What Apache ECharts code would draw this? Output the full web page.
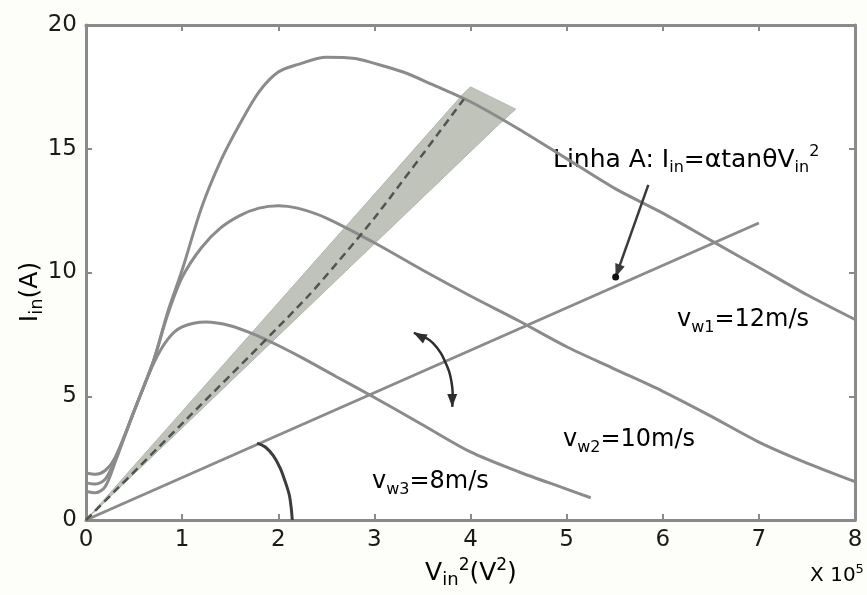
<!DOCTYPE html>
<html><head><meta charset="utf-8">
<script src="https://cdn.jsdelivr.net/npm/echarts@6/dist/echarts.min.js"></script>
<style>html,body{margin:0;padding:0;background:#fdfdfa}#c{width:867px;height:595px}</style>
</head><body><div id="c"></div>
<script>
// ---- data (x in units of 1e5 V^2, y in A) ----
const xTickLabels = ['0','1','2','3','4','5','6','7','8'];
const yTickLabels = ['0','5','10','15','20'];

const vw1X = [0,0.1,0.2,0.3,0.5,0.7,0.85,1.0,1.2,1.4,1.6,1.8,2.0,2.2,2.5,2.8,3.0,3.3,3.6,4.0,4.5,5.0,5.5,6.0,6.5,7.0,7.5,8.0];
const vw1Y = [1.9,1.85,2.0,2.5,4.4,6.4,8.4,10.1,12.6,14.5,16.0,17.3,18.1,18.4,18.7,18.65,18.45,18.1,17.6,16.9,15.8,14.6,13.4,12.4,11.3,10.2,9.1,8.1];

const vw2X = [0,0.1,0.2,0.3,0.5,0.7,0.85,1.0,1.2,1.4,1.6,1.8,2.0,2.2,2.5,3.0,3.5,4.0,4.5,5.0,5.5,6.0,6.5,7.0,7.5,8.0];
const vw2Y = [1.5,1.45,1.65,2.4,4.4,6.4,8.3,9.8,11.0,11.8,12.3,12.6,12.7,12.6,12.2,11.2,10.1,9.05,8.05,7.0,6.1,5.2,4.2,3.15,2.3,1.55];

const vw3X = [0,0.1,0.2,0.3,0.5,0.7,0.85,1.0,1.25,1.5,1.75,2.0,2.25,2.6,3.0,3.5,4.0,4.5,5.0,5.25];
const vw3Y = [1.15,1.1,1.35,2.3,4.4,6.3,7.3,7.8,8.0,7.85,7.5,7.05,6.55,5.8,4.95,3.85,2.75,1.95,1.25,0.9];

const lineAX = [0,7];
const lineAY = [0,12];

const dashX = [0,1.04,2.3,3.0,3.93];
const dashY = [0,4.05,9.0,12.2,17.0];

const bandX = [0,3.92,4.0,4.47,4.3];
const bandY = [0,17.2,17.5,16.6,16.0];

const arcArrowX = [3.41,3.61,3.76,3.81,3.81];
const arcArrowY = [7.56,7.15,6.18,5.37,4.57];

const pointerX = [5.85,5.51];
const pointerY = [13.54,9.82];

const angleX = [1.78,1.865,1.95,2.02,2.07,2.115,2.135,2.146];
const angleY = [3.11,2.95,2.59,2.10,1.58,1.01,0.48,0];

// ---- build ----
const zip = (xs, ys) => xs.map((x, i) => [x, ys[i]]);
const curveColor = '#8b8b8b';
const FONT = 'DejaVu Sans';
const TXT = '#1a1a1a';

function arrowHead(p, q, len, wid, color) {
  const dx = q[0]-p[0], dy = q[1]-p[1];
  const d = Math.hypot(dx, dy) || 1;
  const ux = dx/d, uy = dy/d;
  const bx = q[0]-ux*len, by = q[1]-uy*len;
  return {type:'polygon', shape:{points:[[q[0],q[1]],[bx-uy*wid/2,by+ux*wid/2],[bx+uy*wid/2,by-ux*wid/2]]}, style:{fill:color}};
}

const annotations = [
  {xs: arcArrowX, ys: arcArrowY, color:'#2e2e2e', width:2.5, start:true, end:true, dot:false, smooth:0.4},
  {xs: pointerX, ys: pointerY, color:'#3a3a3a', width:2.5, start:false, end:true, dot:true, smooth:0},
  {xs: angleX, ys: angleY, color:'#3c3c3c', width:3, start:false, end:false, dot:false, smooth:0.3}
];

const chart = echarts.init(document.getElementById('c'), null, {renderer:'canvas'});

const labelStyle = {fontFamily: FONT, fontSize: 23, color:TXT};
const base = (fs) => ({fontFamily:FONT, fontSize:fs, lineHeight:32, color:TXT, verticalAlign:'middle'});
const sub = (fs) => ({fontFamily:FONT, fontSize:fs, lineHeight:fs, color:TXT, verticalAlign:'bottom'});
const sup = (fs) => ({fontFamily:FONT, fontSize:fs, lineHeight:fs, color:TXT, verticalAlign:'top'});

const axisCommon = {
  axisLine:{show:true, onZero:false, lineStyle:{color:'#8a8a8a', width:3}},
  axisTick:{show:true, inside:true, length:6, lineStyle:{color:'#8a8a8a', width:2}},
  splitLine:{show:false}
};

const option = {
  backgroundColor: '#fdfdfa',
  animation: false,
  grid: {left:86, right:12, top:25, bottom:75, show:true, backgroundColor:'#ffffff', borderWidth:0},
  xAxis: [
    {type:'value', min:0, max:8, interval:1, position:'bottom', ...axisCommon,
     axisLabel:{...labelStyle, margin:9, formatter:(v)=>xTickLabels[Math.round(v)]}},
    {type:'value', min:0, max:8, interval:1, position:'top', ...axisCommon, axisLabel:{show:false}}
  ],
  yAxis: [
    {type:'value', min:0, max:20, interval:5, position:'left', ...axisCommon,
     axisLabel:{...labelStyle, margin:9, formatter:(v)=>yTickLabels[Math.round(v/5)]}},
    {type:'value', min:0, max:20, interval:5, position:'right', ...axisCommon, axisLabel:{show:false}}
  ],
  series: [
    {type:'custom', name:'band', z:1, silent:true,
     data:[[0,0]],
     renderItem:(params, api) => ({
       type:'polygon',
       shape:{points: bandX.map((x,i)=>api.coord([x, bandY[i]]))},
       style:{fill:'#bfc3ba', stroke:'#b3b7ae', lineWidth:1}
     })},
    {type:'line', name:'vw1', z:3, data: zip(vw1X, vw1Y), showSymbol:false, smooth:0.3,
     lineStyle:{color:curveColor, width:3}},
    {type:'line', name:'vw2', z:3, data: zip(vw2X, vw2Y), showSymbol:false, smooth:0.3,
     lineStyle:{color:curveColor, width:3}},
    {type:'line', name:'vw3', z:3, data: zip(vw3X, vw3Y), showSymbol:false, smooth:0.3,
     lineStyle:{color:curveColor, width:3}},
    {type:'line', name:'lineA', z:3, data: zip(lineAX, lineAY), showSymbol:false,
     lineStyle:{color:curveColor, width:3}},
    {type:'line', name:'dash', z:4, data: zip(dashX, dashY), showSymbol:false, smooth:0.2,
     lineStyle:{color:'#4f5550', width:2.5, type:[8,5]}},
    {type:'custom', name:'annotations', z:5, silent:true,
     data: annotations.map((a,i)=>[i,0]),
     renderItem:(params, api) => {
       const a = annotations[params.dataIndex];
       const pts = a.xs.map((x,i)=>api.coord([x, a.ys[i]]));
       const children = [{type:'polyline', shape:{points:pts, smooth:a.smooth}, style:{stroke:a.color, lineWidth:a.width, fill:null}}];
       if (a.end) children.push(arrowHead(pts[pts.length-2], pts[pts.length-1], 13, 10, a.color));
       if (a.start) children.push(arrowHead(pts[1], pts[0], 13, 10, a.color));
       if (a.dot) children.push({type:'circle', shape:{cx:pts[pts.length-1][0], cy:pts[pts.length-1][1], r:3.5}, style:{fill:'#111'}});
       return {type:'group', children};
     }}
  ],
  graphic: [
    {type:'text', x:553, y:160, style:{
      text:'{a|Linha A: I}{s|in}{a|=αtanθV}{s|in}{p|2}',
      verticalAlign:'middle', align:'left',
      rich:{a:base(25), s:sub(16), p:sup(16)}}},
    {type:'text', x:677, y:320, style:{
      text:'{a|v}{s|w1}{a|=12m/s}', verticalAlign:'middle', align:'left',
      rich:{a:base(24), s:sub(16)}}},
    {type:'text', x:563, y:440, style:{
      text:'{a|v}{s|w2}{a|=10m/s}', verticalAlign:'middle', align:'left',
      rich:{a:base(24), s:sub(16)}}},
    {type:'text', x:372, y:482, style:{
      text:'{a|v}{s|w3}{a|=8m/s}', verticalAlign:'middle', align:'left',
      rich:{a:base(24), s:sub(16)}}},
    {type:'text', x:471, y:573, style:{
      text:'{a|V}{s|in}{p|2}{a|(V}{p|2}{a|)}', verticalAlign:'middle', align:'center',
      rich:{a:base(25), s:sub(18), p:sup(17)}}},
    {type:'text', x:30, y:292, rotation:Math.PI/2, style:{
      text:'{a|I}{s|in}{a|(A)}', verticalAlign:'middle', align:'center',
      rich:{a:base(25), s:sub(18)}}},
    {type:'text', x:837, y:576, style:{
      text:'{a|X 10}{p|5}', verticalAlign:'middle', align:'center',
      rich:{a:{fontFamily:FONT, fontSize:20, lineHeight:26, color:TXT, verticalAlign:'middle'}, p:sup(13)}}}
  ]
};
chart.setOption(option);
</script></body></html>
